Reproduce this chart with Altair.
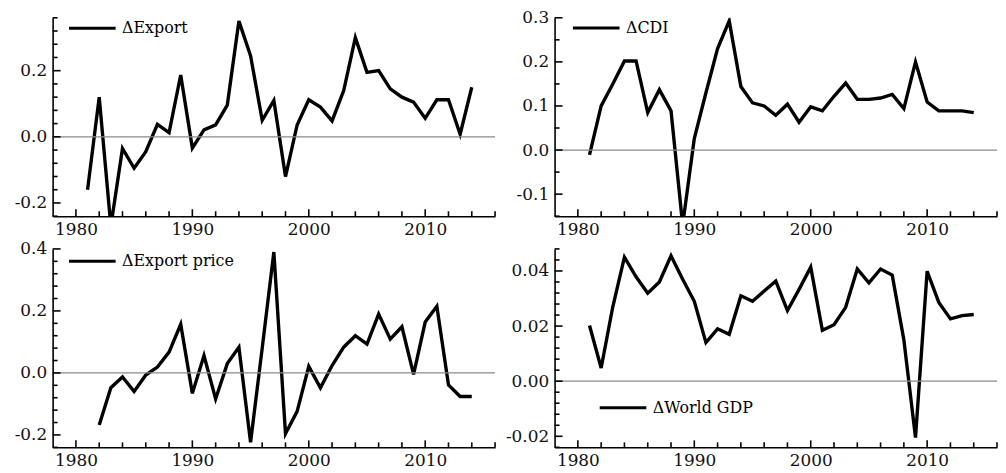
import altair as alt
import pandas as pd

FONT = "DejaVu Serif"

# ---------------- data ----------------
years_export = list(range(1981, 2015))
d_export = [-0.16, 0.12, -0.27, -0.035, -0.095, -0.045, 0.038, 0.013, 0.187,
            -0.034, 0.021, 0.036, 0.096, 0.35, 0.245, 0.05, 0.11, -0.12, 0.036,
            0.112, 0.09, 0.048, 0.14, 0.30, 0.195, 0.20, 0.145, 0.12, 0.105,
            0.056, 0.112, 0.112, 0.008, 0.15]

years_cdi = list(range(1981, 2015))
d_cdi = [-0.011, 0.10, 0.15, 0.202, 0.202, 0.085, 0.137, 0.089, -0.17,
         0.026, 0.13, 0.23, 0.293, 0.144, 0.107, 0.10, 0.079, 0.104, 0.063,
         0.098, 0.089, 0.122, 0.152, 0.115, 0.115, 0.118, 0.126, 0.094, 0.20,
         0.109, 0.089, 0.089, 0.089, 0.085]

years_price = list(range(1982, 2015))
d_price = [-0.168, -0.048, -0.013, -0.06, -0.007, 0.019, 0.067, 0.157,
           -0.066, 0.056, -0.084, 0.03, 0.083, -0.224, 0.08, 0.39, -0.196, -0.124,
           0.021, -0.048, 0.024, 0.083, 0.12, 0.093, 0.19, 0.109, 0.149, -0.005,
           0.164, 0.215, -0.039, -0.076, -0.076]

years_gdp = list(range(1981, 2015))
d_gdp = [0.0202, 0.0048, 0.027, 0.045, 0.0379, 0.0319, 0.036, 0.0455, 0.037,
         0.029, 0.014, 0.019, 0.017, 0.031, 0.029, 0.0327, 0.0363, 0.0256, 0.0333,
         0.0414, 0.0185, 0.0205, 0.0268, 0.0407, 0.0357, 0.0407, 0.0385, 0.015, -0.0205,
         0.0399, 0.0286, 0.0226, 0.0238, 0.0242]

names = ["\u0394Export", "\u0394CDI", "\u0394Export price", "\u0394World GDP"]

# year tick labels (major) and minor year ticks
year_major = [1980, 1990, 2000, 2010]
year_minor = list(range(1980, 2017, 2))

# ---------------- layout ----------------
W = 446
H_TOP = 200
H_BOT = 200
X_DOMAIN = [1978, 2016]
Y_MAJ, Y_MIN = 8, 5
X_MAJ, X_MIN = 7, 5
TICK_W = 1.6


def tick_list(lo, hi, step):
    n = int(round((hi - lo) / step))
    return [round(lo + i * step, 6) + 0.0 for i in range(n + 1)]


def panel(years, values, name, ydom, ystep, major, fmt, lx, ly, height):
    df = pd.DataFrame({"year": years, "value": values, "series": name})
    yscale = alt.Scale(domain=ydom, nice=False, zero=False)
    xscale = alt.Scale(domain=X_DOMAIN, nice=False, zero=False)
    y_all = tick_list(ydom[0], ydom[1], ystep)
    y_major = [v for v in y_all if abs(v / major - round(v / major)) < 1e-6]
    y_minor = [v for v in y_all if v not in y_major]
    ylab = f"replace(format(datum.value, '{fmt}'), '\u2212', '-')"
    yaxis = alt.Axis(
        values=y_major,
        labelExpr=ylab,
        ticks=False,
        labelPadding=6,
        labelOverlap=False,
        title=None,
    )
    xaxis = alt.Axis(
        values=year_major,
        format="d",
        ticks=False,
        labelPadding=5,
        labelOverlap=False,
        labelFlush=False,
        title=None,
    )
    line = alt.Chart(df).mark_line(strokeWidth=3.4, clip=True).encode(
        x=alt.X("year:Q", scale=xscale, axis=xaxis),
        y=alt.Y("value:Q", scale=yscale, axis=yaxis),
        color=alt.Color(
            "series:N",
            scale=alt.Scale(range=["#000000"]),
            legend=alt.Legend(
                title=None,
                orient="none",
                legendX=lx,
                legendY=ly,
                symbolType="stroke",
                symbolSize=2209,
                symbolStrokeWidth=3,
                labelFont=FONT,
                labelFontSize=16,
                labelColor="#000000",
                labelOffset=5,
                labelLimit=400,
                padding=0,
            ),
        ),
    )
    zero = alt.Chart(pd.DataFrame({"z": [0.0]})).mark_rule(
        color="#8a8a8a", strokeWidth=1.2
    ).encode(y=alt.Y("z:Q", scale=yscale, axis=yaxis))

    def yticks(vals, length):
        return alt.Chart(pd.DataFrame({"t": vals})).mark_rule(
            color="#000000", strokeWidth=TICK_W
        ).encode(
            y=alt.Y("t:Q", scale=yscale, axis=yaxis),
            x=alt.value(0),
            x2=alt.value(length),
        )

    def xticks(vals, length):
        return alt.Chart(pd.DataFrame({"t": vals})).mark_rule(
            color="#000000", strokeWidth=TICK_W
        ).encode(
            x=alt.X("t:Q", scale=xscale, axis=xaxis),
            y=alt.value(height),
            y2=alt.value(height - length),
        )

    return alt.layer(
        line, zero,
        yticks(y_major, Y_MAJ), yticks(y_minor, Y_MIN),
        xticks(year_major, X_MAJ), xticks([v for v in year_minor if v not in year_major], X_MIN),
    ).properties(width=W, height=height)


tl = panel(years_export, d_export, names[0], [-0.24, 0.36], 0.04, 0.2, ".1f", 15, -14.5, H_TOP)
tr = panel(years_cdi, d_cdi, names[1], [-0.15, 0.3], 0.05, 0.1, ".1f", 17, -14.8, H_TOP)
bl = panel(years_price, d_price, names[2], [-0.24, 0.4], 0.04, 0.2, ".1f", 15, -12.5, H_BOT)
br = panel(years_gdp, d_gdp, names[3], [-0.024, 0.048], 0.004, 0.02, ".2f", 44, 135, H_BOT)

chart = (
    alt.concat(tl, tr, bl, br, columns=2, spacing=alt.RowColnumber(row=33, column=60), bounds="flush")
    .resolve_scale(color="independent", x="independent", y="independent")
    .properties(padding={"left": 6, "top": -7, "right": 0, "bottom": 0}, background="white")
    .configure_view(stroke=None)
    .configure_axis(
        domainColor="#000000",
        domainWidth=1.6,
        labelFont=FONT,
        labelFontSize=17,
        labelColor="#111111",
        grid=False,
    )
)

chart.save("out.html", embed_options={"renderer": "svg", "actions": False})
